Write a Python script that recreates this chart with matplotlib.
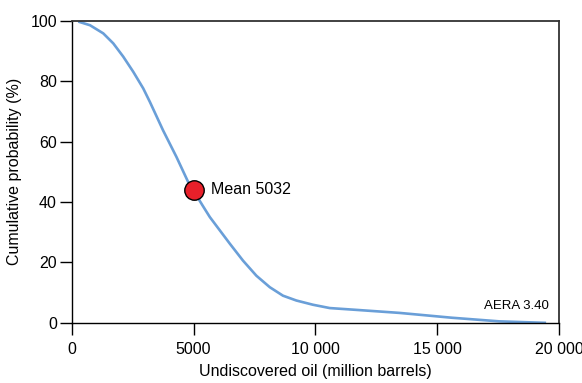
import matplotlib
matplotlib.use('Agg')
import matplotlib.pyplot as plt

plt.rcParams['font.family'] = ['Liberation Sans', 'DejaVu Sans']

# cumulative probability curve
oil = [270, 750, 1295, 1705, 2115, 2525, 2935, 3210, 3750, 4300, 4780,
       5390, 5670, 6490, 7030, 7580, 8130, 8670, 9220, 9900, 10590, 11680,
       13450, 15600, 17550, 19470]
prob = [99.7, 98.5, 95.8, 92.5, 88.1, 83.1, 77.6, 73.1, 63.7, 54.9, 46.6,
        38.6, 35.0, 26.2, 20.6, 15.6, 11.8, 9.0, 7.4, 6.0, 4.9, 4.3,
        3.3, 1.7, 0.5, 0.0]

mean_oil = 5032
mean_prob = 44.0

xticks = [0, 5000, 10000, 15000, 20000]
xticklabels = ['0', '5000', '10 000', '15 000', '20 000']
yticks = [0, 20, 40, 60, 80, 100]

fig = plt.figure(figsize=(5.82, 3.83), dpi=100)
ax = fig.add_axes([0.1232, 0.1570, 0.8373, 0.7890])

ax.plot(oil, prob, color='#6a9fd8', lw=1.9, solid_capstyle='butt',
        solid_joinstyle='round', zorder=2)
ax.plot([mean_oil], [mean_prob], 'o', ms=14, color='#e8202a',
        markeredgecolor='black', markeredgewidth=1.0, zorder=3)
ax.annotate(f'Mean {mean_oil}', (mean_oil, mean_prob), xytext=(12, 0),
            textcoords='offset points', va='center', ha='left', fontsize=11.5)

ax.text(0.98, 0.035, 'AERA 3.40', transform=ax.transAxes, ha='right',
        va='bottom', fontsize=9.5)

ax.set_xlim(0, 20000)
ax.set_ylim(0, 100)
ax.set_xticks(xticks)
ax.set_xticklabels(xticklabels)
ax.set_yticks(yticks)
ax.tick_params(axis='both', direction='out', length=8.6, width=1.0,
               labelsize=11.5, color='black')
ax.tick_params(axis='x', pad=5)
ax.tick_params(axis='y', pad=2)

for side in ['top', 'right']:
    ax.spines[side].set_color('#333333')
    ax.spines[side].set_linewidth(1.3)
for side in ['left', 'bottom']:
    ax.spines[side].set_color('black')
    ax.spines[side].set_linewidth(1.0)

ax.set_xlabel('Undiscovered oil (million barrels)', fontsize=11.5, labelpad=5)
ax.set_ylabel('Cumulative probability (%)', fontsize=11.5, labelpad=6)

fig.savefig('out.png', dpi=100)
